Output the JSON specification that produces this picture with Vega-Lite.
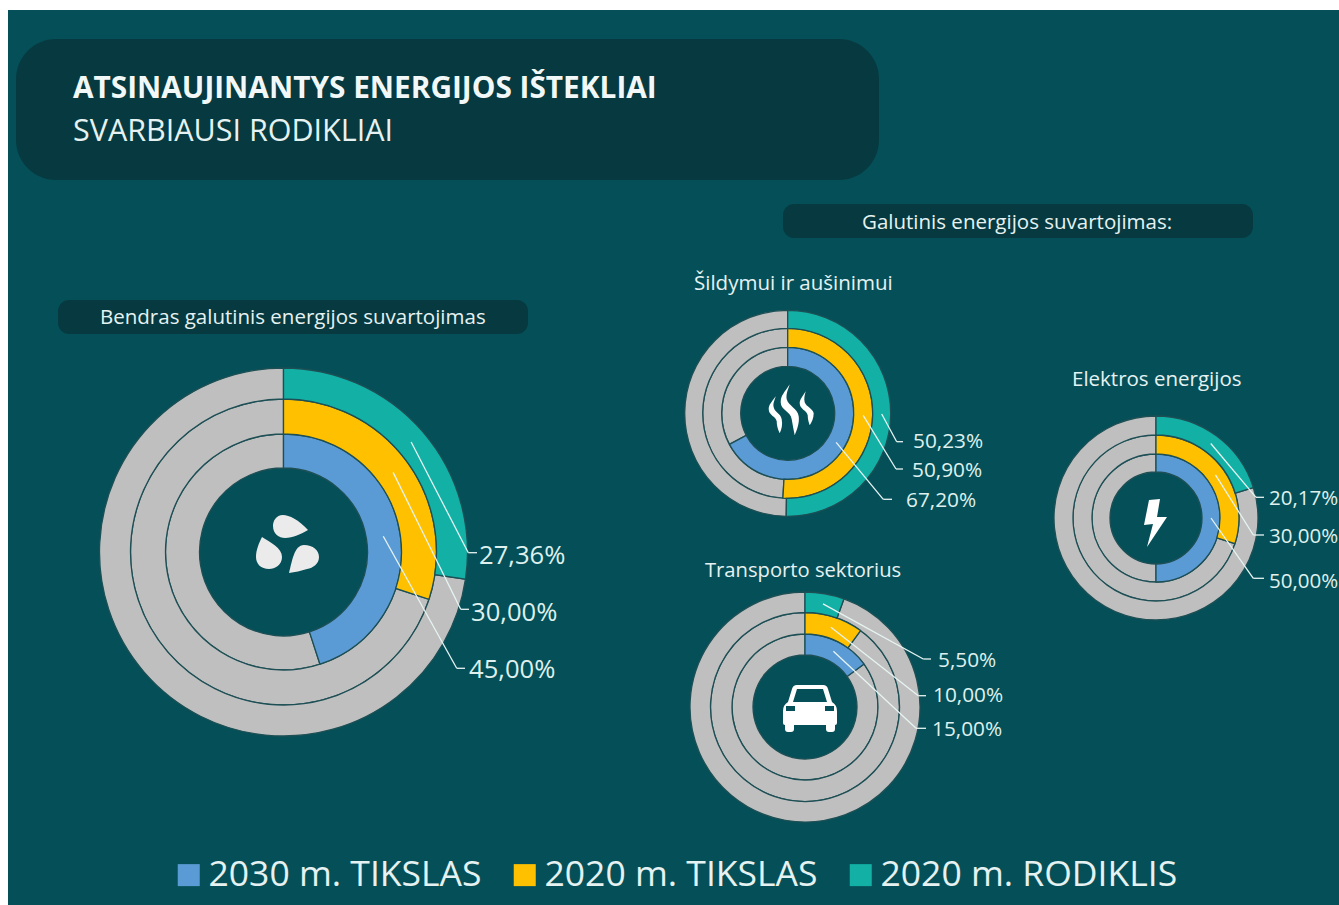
{"$schema":"https://vega.github.io/schema/vega-lite/v6.json","width":1339,"height":905,"padding":0,"autosize":{"type":"none"},"background":"#ffffff","view":{"stroke":null},"config":{"font":"Open Sans","style":{"cell":{"stroke":null}}},
"params":[
{"name":"P","value":{"Bendras":{"c":[283.5,552],"r":[84,118,153,184],"fs":25.6,"lead":[[456.7,668.3,465,469,670],[460.7,609.3,469,471,613],[468.3,552.7,477,479,556]]},"Šildymas":{"c":[787.7,413.3],"r":[47,66,85,103],"fs":20.8,"lead":[[883.3,499.3,892,906,501],[896,469,903,912,471],[896.7,441.7,903,913,442]]},"Elektra":{"c":[1156,518],"r":[46,64,83,102],"fs":20.5,"lead":[[1253.3,578.3,1264,1269,582],[1253.3,535,1264,1269,537],[1256,497.3,1264,1269,499]]},"Transportas":{"c":[805,707],"r":[52,73,94.5,115],"fs":20.8,"lead":[[916,728.3,926,932,730],[918.3,695.7,926,933,696],[923.3,659,931,938,661]]}}},
{"name":"R","value":{"2030 m. TIKSLAS":0,"2020 m. TIKSLAS":1,"2020 m. RODIKLIS":2}},
{"name":"T","value":{"Bendras galutinis energijos suvartojimas":[100,318,20.5],"Galutinis energijos suvartojimas:":[862,223,20.5],"Šildymui ir aušinimui":[694,284,20.5],"Elektros energijos":[1072,380,20.5],"Transporto sektorius":[705,571,20.2],"SVARBIAUSI RODIKLIAI":[73,132,30.5]}},
{"name":"B","value":{"fonas":[8,10,1339,905,0],"antraštė":[16,39,879,180,40],"galutinis":[783,204,1253,238,11],"bendras":[58,300,528,334,11]}}
],
"datasets":{"rings":[
{"panel":"Bendras","series":"2030 m. TIKSLAS","value":45},{"panel":"Bendras","series":"2020 m. TIKSLAS","value":30},{"panel":"Bendras","series":"2020 m. RODIKLIS","value":27.36},
{"panel":"Šildymas","series":"2030 m. TIKSLAS","value":67.2},{"panel":"Šildymas","series":"2020 m. TIKSLAS","value":50.9},{"panel":"Šildymas","series":"2020 m. RODIKLIS","value":50.23},
{"panel":"Elektra","series":"2030 m. TIKSLAS","value":50},{"panel":"Elektra","series":"2020 m. TIKSLAS","value":30},{"panel":"Elektra","series":"2020 m. RODIKLIS","value":20.17},
{"panel":"Transportas","series":"2030 m. TIKSLAS","value":15},{"panel":"Transportas","series":"2020 m. TIKSLAS","value":10},{"panel":"Transportas","series":"2020 m. RODIKLIS","value":5.5}
]},
"layer":[
{"data":{"values":[{"box":"fonas"}]},"transform":[{"calculate":"B[datum.box]","as":"b"},{"calculate":"datum.b[0]","as":"x0"},{"calculate":"datum.b[1]","as":"y0"},{"calculate":"datum.b[2]","as":"x1"},{"calculate":"datum.b[3]","as":"y1"}],"mark":{"type":"rect","fill":"#055058"},"encoding":{"x":{"field":"x0","type":"quantitative","scale":{"domain":[0,1339],"nice":false,"zero":false},"axis":null},"x2":{"field":"x1"},"y":{"field":"y0","type":"quantitative","scale":{"domain":[905,0],"nice":false,"zero":false},"axis":null},"y2":{"field":"y1"}}},
{"data":{"values":[{"box":"antraštė"}]},"transform":[{"calculate":"B[datum.box]","as":"b"},{"calculate":"datum.b[0]","as":"x0"},{"calculate":"datum.b[1]","as":"y0"},{"calculate":"datum.b[2]","as":"x1"},{"calculate":"datum.b[3]","as":"y1"}],"mark":{"type":"rect","fill":"#063a40","cornerRadius":40},"encoding":{"x":{"field":"x0","type":"quantitative","axis":null},"x2":{"field":"x1"},"y":{"field":"y0","type":"quantitative","axis":null},"y2":{"field":"y1"}}},
{"data":{"values":[{"box":"galutinis"},{"box":"bendras"}]},"transform":[{"calculate":"B[datum.box]","as":"b"},{"calculate":"datum.b[0]","as":"x0"},{"calculate":"datum.b[1]","as":"y0"},{"calculate":"datum.b[2]","as":"x1"},{"calculate":"datum.b[3]","as":"y1"}],"mark":{"type":"rect","fill":"#063a40","cornerRadius":11},"encoding":{"x":{"field":"x0","type":"quantitative","axis":null},"x2":{"field":"x1"},"y":{"field":"y0","type":"quantitative","axis":null},"y2":{"field":"y1"}}},
{"data":{"name":"rings"},"transform":[{"calculate":"P[datum.panel]","as":"p"},{"calculate":"R[datum.series]","as":"i"},{"calculate":"datum.p.c[0]","as":"cx"},{"calculate":"datum.p.c[1]","as":"cy"},{"calculate":"datum.p.r[datum.i]","as":"ri"},{"calculate":"datum.p.r[datum.i+1]","as":"ro"},{"calculate":"100","as":"full"}],"mark":{"type":"arc","fill":"#bfbfbf","stroke":"#1d4f55","strokeWidth":1.3},"encoding":{"x":{"field":"cx","type":"quantitative","axis":null},"y":{"field":"cy","type":"quantitative","axis":null},"theta":{"field":"value","type":"quantitative","stack":null,"scale":{"domain":[0,100],"range":[0,6.28318]}},"theta2":{"field":"full"},"radius":{"field":"ro","type":"quantitative","scale":{"type":"linear","domain":[0,200],"range":[0,200]}},"radius2":{"field":"ri"}}},
{"data":{"name":"rings"},"transform":[{"calculate":"P[datum.panel]","as":"p"},{"calculate":"R[datum.series]","as":"i"},{"calculate":"datum.p.c[0]","as":"cx"},{"calculate":"datum.p.c[1]","as":"cy"},{"calculate":"datum.p.r[datum.i]","as":"ri"},{"calculate":"datum.p.r[datum.i+1]","as":"ro"},{"calculate":"0","as":"start"}],"mark":{"type":"arc","stroke":"#1d4f55","strokeWidth":1.3},"encoding":{"x":{"field":"cx","type":"quantitative","axis":null},"y":{"field":"cy","type":"quantitative","axis":null},"theta":{"field":"start","type":"quantitative","stack":null},"theta2":{"field":"value"},"radius":{"field":"ro","type":"quantitative"},"radius2":{"field":"ri"},"color":{"field":"series","type":"nominal","scale":{"domain":["2030 m. TIKSLAS","2020 m. TIKSLAS","2020 m. RODIKLIS"],"range":["#5b9bd5","#ffc000","#12b0a5"]},"legend":{"title":null,"orient":"none","legendX":171,"legendY":857,"direction":"horizontal","columns":3,"symbolType":"square","symbolSize":484,"symbolStrokeWidth":0,"labelFontSize":35.5,"labelFont":"Open Sans","labelColor":"#e6f2f2","labelOffset":2,"columnPadding":25,"labelLimit":500}}}},
{"data":{"name":"rings"},"transform":[{"calculate":"P[datum.panel]","as":"p"},{"calculate":"R[datum.series]","as":"i"},{"calculate":"(datum.p.r[datum.i]+datum.p.r[datum.i+1])/2","as":"rm"},{"calculate":"datum.p.c[0]+datum.rm*sin(PI*datum.value/100)","as":"sx"},{"calculate":"datum.p.c[1]-datum.rm*cos(PI*datum.value/100)","as":"sy"},{"calculate":"datum.p.lead[datum.i][0]","as":"ex"},{"calculate":"datum.p.lead[datum.i][1]","as":"ey"}],"mark":{"type":"rule","color":"#e6f4f2","strokeWidth":1.3},"encoding":{"x":{"field":"sx","type":"quantitative","axis":null},"y":{"field":"sy","type":"quantitative","axis":null},"x2":{"field":"ex"},"y2":{"field":"ey"}}},
{"data":{"name":"rings"},"transform":[{"calculate":"P[datum.panel]","as":"p"},{"calculate":"R[datum.series]","as":"i"},{"calculate":"datum.p.lead[datum.i][0]","as":"ex"},{"calculate":"datum.p.lead[datum.i][1]","as":"ey"},{"calculate":"datum.p.lead[datum.i][2]","as":"tx"}],"mark":{"type":"rule","color":"#e6f4f2","strokeWidth":1.3},"encoding":{"x":{"field":"ex","type":"quantitative","axis":null},"y":{"field":"ey","type":"quantitative","axis":null},"x2":{"field":"tx"}}},
{"data":{"name":"rings"},"transform":[{"calculate":"P[datum.panel]","as":"p"},{"calculate":"R[datum.series]","as":"i"},{"calculate":"datum.p.lead[datum.i][3]","as":"lx"},{"calculate":"datum.p.lead[datum.i][4]","as":"ly"},{"calculate":"datum.p.fs","as":"fs"},{"calculate":"replace(format(datum.value,'.2f'),'.',',')+'%'","as":"txt"}],"mark":{"type":"text","align":"left","baseline":"middle","color":"#dff0ee","font":"Open Sans"},"encoding":{"x":{"field":"lx","type":"quantitative","axis":null},"y":{"field":"ly","type":"quantitative","axis":null},"text":{"field":"txt"},"size":{"field":"fs","type":"quantitative","scale":null,"legend":null}}},
{"data":{"values":[{"text":"Bendras galutinis energijos suvartojimas"},{"text":"Galutinis energijos suvartojimas:"},{"text":"Šildymui ir aušinimui"},{"text":"Elektros energijos"},{"text":"Transporto sektorius"},{"text":"SVARBIAUSI RODIKLIAI"}]},"transform":[{"calculate":"T[datum.text][0]","as":"lx"},{"calculate":"T[datum.text][1]","as":"ly"},{"calculate":"T[datum.text][2]","as":"fs"}],"mark":{"type":"text","align":"left","baseline":"middle","color":"#e6f2f2","font":"Open Sans"},"encoding":{"x":{"field":"lx","type":"quantitative","axis":null},"y":{"field":"ly","type":"quantitative","axis":null},"text":{"field":"text"},"size":{"field":"fs","type":"quantitative","scale":null,"legend":null}}},
{"data":{"values":[{"text":"ATSINAUJINANTYS ENERGIJOS IŠTEKLIAI"}]},"transform":[{"calculate":"73","as":"lx"},{"calculate":"89","as":"ly"}],"mark":{"type":"text","align":"left","baseline":"middle","color":"#f2f8f8","font":"Open Sans","fontWeight":"bold","fontSize":29.8},"encoding":{"x":{"field":"lx","type":"quantitative","axis":null},"y":{"field":"ly","type":"quantitative","axis":null},"text":{"field":"text"}}},
{"data":{"values":[{"panel":"Bendras"}]},"transform":[{"calculate":"P[datum.panel].c[0]+3.5","as":"cx"},{"calculate":"P[datum.panel].c[1]-8","as":"cy"}],"mark":{"type":"point","size":4,"filled":true,"opacity":1,"color":"#ebebeb","shape":"M21,-14 C12,-24 2,-29 -4,-29 C-11,-29 -14,-23 -14,-18 C-14,-10 -8,-6 -2,-6 C6,-6 14,-10 21,-14 Z M-25,-7 C-17,-2 -5,4 -5,13 C-5,21 -12,25 -18,25 C-26,25 -31,20 -31,13 C-31,6 -28,-1 -25,-7 Z M2,29 C5,18 7,1 17,1 C26,1 32,6 32,13 C32,20 26,24 20,25 C14,27 8,28 2,29 Z"},"encoding":{"x":{"field":"cx","type":"quantitative","axis":null},"y":{"field":"cy","type":"quantitative","axis":null}}},
{"data":{"values":[{"panel":"Šildymas"}]},"transform":[{"calculate":"P[datum.panel].c[0]+2","as":"cx"},{"calculate":"P[datum.panel].c[1]-1","as":"cy"}],"mark":{"type":"point","size":4,"filled":true,"opacity":1,"color":"#ffffff","shape":"M0,-28 C-5,-20 -9,-17 -9,-10 C-9,-2 1,-1 2,7 C3,13 4,18 5,23 C7,18 10,11 9,4 C8,-4 -1,-6 -3,-13 C-4,-19 -1,-24 0,-28 Z M-14,-16 C-18,-10 -21,-8 -21,-3 C-21,3 -14,4 -13,9 C-13,13 -12,17 -10,21 C-8,17 -7,12 -8,7 C-9,1 -15,0 -16,-5 C-17,-9 -15,-12 -14,-16 Z M16,-21 C13,-16 10,-13 10,-9 C10,-3 17,-2 18,3 C18,7 19,10 20,13 C22,10 24,6 24,1 C23,-4 17,-5 15,-10 C14,-14 15,-17 16,-21 Z"},"encoding":{"x":{"field":"cx","type":"quantitative","axis":null},"y":{"field":"cy","type":"quantitative","axis":null}}},
{"data":{"values":[{"panel":"Elektra"}]},"transform":[{"calculate":"P[datum.panel].c[0]","as":"cx"},{"calculate":"P[datum.panel].c[1]","as":"cy"}],"mark":{"type":"point","size":4,"filled":true,"opacity":1,"color":"#ffffff","shape":"M-7,-18 L4,-19 L1,-1 L11,-1 L-9,29 L-3,6 L-12,7 Z"},"encoding":{"x":{"field":"cx","type":"quantitative","axis":null},"y":{"field":"cy","type":"quantitative","axis":null}}},
{"data":{"values":[{"panel":"Transportas"}]},"transform":[{"calculate":"P[datum.panel].c[0]+5","as":"cx"},{"calculate":"P[datum.panel].c[1]+1","as":"cy"}],"mark":{"type":"point","size":4,"filled":true,"opacity":1,"color":"#ffffff","shape":"M-13,-23 L13,-23 Q17,-23 18,-19 L22,-6 Q27,-3 27,3 L27,15 Q27,17 25,17 L25,21 Q25,24 22,24 L19,24 Q16,24 16,21 L16,17 L-16,17 L-16,21 Q-16,24 -19,24 L-22,24 Q-25,24 -25,21 L-25,17 Q-27,17 -27,15 L-27,3 Q-27,-3 -22,-6 L-18,-19 Q-17,-23 -13,-23 Z M-13,-19 L-17,-6 L17,-6 L13,-19 Z M-24,-2 L-24,3 L-15,3 L-15,-2 Z M15,-2 L15,3 L24,3 L24,-2 Z"},"encoding":{"x":{"field":"cx","type":"quantitative","axis":null},"y":{"field":"cy","type":"quantitative","axis":null}}}
]}
